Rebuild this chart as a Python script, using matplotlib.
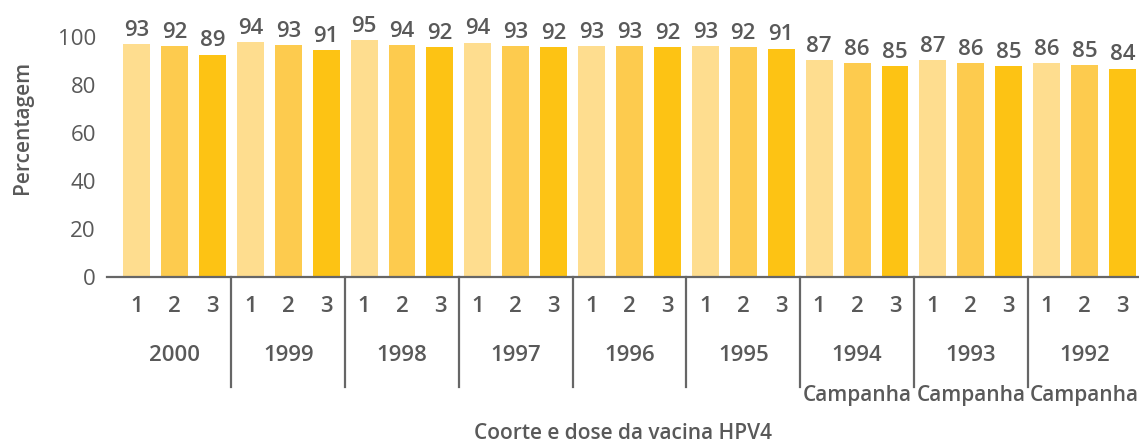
import numpy as np
import matplotlib
matplotlib.use('Agg')
import matplotlib.pyplot as plt
import matplotlib.transforms as mtransforms
from matplotlib import font_manager as fm

plt.rcParams['font.family'] = ['Open Sans', 'DejaVu Sans']

# cohorts (birth year) and doses
cohorts = ['2000', '1999', '1998', '1997', '1996', '1995', '1994', '1993', '1992']
doses = ['1', '2', '3']
campanha = ['1994', '1993', '1992']

# bar heights as drawn (%), per cohort: dose 1, 2, 3
bar_heights = [
    [96.9, 96.1, 92.4],
    [97.8, 96.5, 94.4],
    [98.6, 96.5, 95.7],
    [97.4, 96.1, 95.7],
    [96.1, 96.1, 95.7],
    [96.1, 95.7, 94.9],
    [90.3, 89.0, 87.8],
    [90.3, 89.0, 87.8],
    [89.0, 88.2, 86.7],
]
# printed value labels
value_labels = [
    [93, 92, 89],
    [94, 93, 91],
    [95, 94, 92],
    [94, 93, 92],
    [93, 93, 92],
    [93, 92, 91],
    [87, 86, 85],
    [87, 86, 85],
    [86, 85, 84],
]

dose_colors = ['#FEDD8F', '#FDCB4E', '#FDC314']
txt = '#595959'
line_col = '#666666'


def font_file(name):
    for f in fm.fontManager.ttflist:
        if f.fname.endswith(name):
            return f.fname
    return None


semi_path = font_file('OpenSans-Semibold.ttf')
reg_path = font_file('OpenSans-Regular.ttf')


def semi(size):
    if semi_path:
        return fm.FontProperties(fname=semi_path, size=size)
    return fm.FontProperties(family='Open Sans', weight='semibold', size=size)


def reg(size):
    if reg_path:
        return fm.FontProperties(fname=reg_path, size=size)
    return fm.FontProperties(family='Open Sans', size=size)


fig = plt.figure(figsize=(11.39, 4.44), dpi=100)
ax = fig.add_axes([107 / 1139, 1 - 276.7 / 444, 1 - 107 / 1139, 240 / 444])

heights = np.array(bar_heights).ravel()
labels = np.array(value_labels).ravel()
x = np.arange(len(heights))
cols = [dose_colors[i % 3] for i in range(len(heights))]

ax.bar(x, heights, width=0.71, color=cols, zorder=2)

for xi, h, lab in zip(x, heights, labels):
    ax.annotate(str(lab), (xi, h), xytext=(0, 2.5), textcoords='offset points',
                ha='center', va='bottom', fontproperties=semi(16),
                color=txt, clip_on=False)

ax.set_ylim(0, 100)
ax.set_xlim(-0.78, -0.78 + (1139 - 107) / 37.92)
ax.set_yticks(np.arange(0, 101, 20))
ax.tick_params(axis='y', length=0, pad=8, labelcolor=txt)
for t in ax.get_yticklabels():
    t.set_fontproperties(reg(16))

ax.set_xticks(x)
ax.set_xticklabels(doses * len(cohorts))
ax.tick_params(axis='x', length=0, pad=14, labelcolor=txt)
for t in ax.get_xticklabels():
    t.set_fontproperties(semi(16))

for s in ['top', 'right', 'left']:
    ax.spines[s].set_visible(False)
ax.spines['bottom'].set_color(line_col)
ax.spines['bottom'].set_linewidth(1.6)

trans = mtransforms.blended_transform_factory(ax.transData, ax.transAxes)

# group separators
for g in range(1, len(cohorts)):
    ax.plot([3 * g - 0.5] * 2, [0, -0.46], transform=trans, color=line_col,
            lw=1.6, clip_on=False)

# cohort labels
for g, c in enumerate(cohorts):
    ax.text(3 * g + 1, -0.33, c, transform=trans, ha='center', va='center',
            fontproperties=semi(16), color=txt)
    if c in campanha:
        ax.text(3 * g + 1, -0.495, 'Campanha', transform=trans, ha='center',
                va='center', fontproperties=semi(15), color=txt)

ax.text(0.5, -0.655, 'Coorte e dose da vacina HPV4', transform=ax.transAxes,
        ha='center', va='center', fontproperties=semi(15), color=txt)

ax.set_ylabel('Percentagem', fontproperties=semi(15), color=txt)
ax.yaxis.set_label_coords(-0.072, 0.62)

fig.savefig('out.png', dpi=100)
